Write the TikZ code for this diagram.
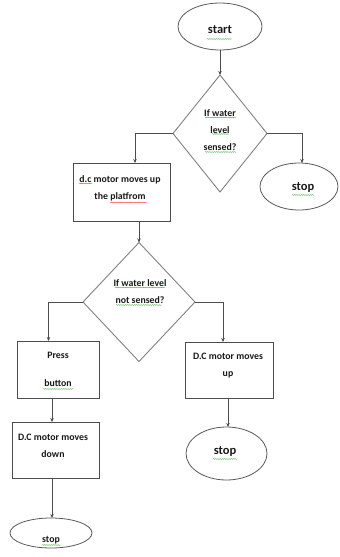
\documentclass[tikz,border=0pt]{standalone}
\usepackage{fontspec}
\setmainfont{Carlito}
\usetikzlibrary{shapes.geometric,arrows.meta,decorations.pathmorphing}
\begin{document}
\begin{tikzpicture}[x=1pt,y=-1pt,
  every node/.style={inner sep=0pt,outer sep=0pt},
  oval/.style={draw=black!65,line width=0.8pt,ellipse},
  box/.style={draw=black!70,line width=0.9pt,rectangle},
  dia/.style={draw=black!50,line width=0.9pt,diamond},
  txt/.style={font=\bfseries\fontsize{9.8}{17}\selectfont,align=center,text=black!90},
  big/.style={font=\bfseries\fontsize{12.5}{15}\selectfont,text=black!90},
  con/.style={draw=black!70,line width=0.8pt,-{Stealth[length=4pt,width=3.5pt]}},
  sq/.style={draw=green!55!black!70,line width=0.35pt,decorate,decoration={snake,amplitude=0.45pt,segment length=1.8pt}},
  sqr/.style={sq,draw=red!75}]
\useasboundingbox (0,0) rectangle (340,557);
% shapes
\node[oval,minimum width=84,minimum height=47] (start) at (220,26.5) {};
\node[dia,minimum width=94,minimum height=117] (d1) at (220,133.5) {};
\node[oval,minimum width=78,minimum height=47] (stop1) at (299,186.5) {};
\node[box,minimum width=97,minimum height=58] (b1) at (121.5,192) {};
\node[dia,minimum width=112,minimum height=119] (d2) at (139,302) {};
\node[box,minimum width=82,minimum height=57] (press) at (58,369.5) {};
\node[box,minimum width=87,minimum height=56] (b3) at (55.5,450) {};
\node[box,minimum width=88,minimum height=56] (b4) at (229,370) {};
\node[oval,minimum width=81,minimum height=53] (stop2) at (226.5,453.5) {};
\node[oval,minimum width=82,minimum height=30] (stop3) at (51,533) {};
% texts
\node[big] (tstart) at (220,30) {start};
\node[big] (tstop1) at (303,188) {stop};
\node[big] (tstop2) at (225,452) {stop};
\node[txt] (tstop3) at (51,540) {stop};
\node[txt] (td1) at (220,130) {If water\\level\\sensed?};
\node[txt] (tb1) at (120,188) {d.c motor moves up\\the platfrom};
\node[txt] (td2) at (140,292) {If water level\\not sensed?};
\node[txt] (tpress) at (58,369) {Press\\[11pt]button};
\node[txt] (tb3) at (53,446) {D.C motor moves\\down};
\node[txt] (tb4) at (228,366) {D.C motor moves\\up};
% spell-check underlines
\path[sq] (207,39) -- (232,39);
\path[sq] (205,117.5) -- (236,117.5);
\path[sq] (212,134) -- (229,134);
\path[sq] (205,152) -- (236,152);
\path[sq] (292,195) -- (314,195);
\path[sqr] (79,183.5) -- (92,183.5);
\path[sqr] (110,202.5) -- (147,202.5);
\path[sq] (115,287.5) -- (165,287.5);
\path[sq] (116,305) -- (162,305);
\path[sq] (43,389) -- (73,389);
\path[sq] (213,459) -- (237,459);
\path[sq] (42,545) -- (61,545);
% connectors
\coordinate (e1) at ([xshift=13.5]b1.north);
\coordinate (e2) at ([xshift=3]stop1.north);
\coordinate (e3) at ([xshift=17.5]b1.south);
\coordinate (e4) at ([xshift=-9.5]press.north);
\coordinate (e5) at ([xshift=-6]press.south);
\coordinate (e6) at ([xshift=-3.5]b3.south);
\coordinate (e7) at ([xshift=-6]b4.north);
\coordinate (e8) at ([xshift=-1]b4.south);
\path[con] (start.south) -- (d1.north);
\path[con] (d1.west) -| (e1);
\path[con] (d1.east) -| (e2);
\path[con] (e3) -- (d2.north);
\path[con] (d2.west) -| (e4);
\path[con] (e5) -- (e5 |- b3.north);
\path[con] (e6) -- (e6 |- stop3.north);
\path[con] (d2.east) -| (e7);
\path[con] (e8) -- (e8 |- stop2.north);
\end{tikzpicture}
\end{document}
